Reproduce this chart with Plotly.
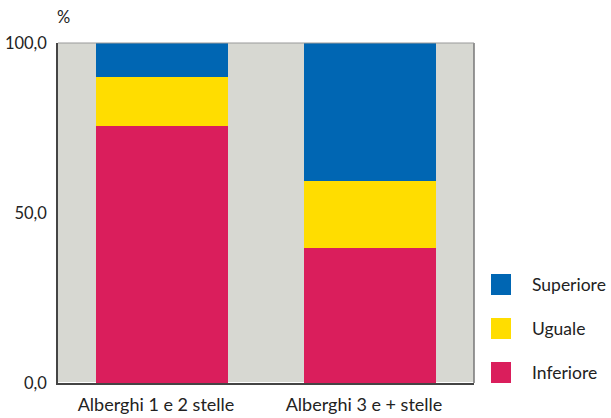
import plotly.graph_objects as go

categories = ["Alberghi 1 e 2 stelle", "Alberghi 3 e + stelle"]
inferiore = [75.6, 39.7]
uguale = [14.3, 19.8]
superiore = [10.1, 40.5]
series_names = ["Inferiore", "Uguale", "Superiore"]
series_values = [inferiore, uguale, superiore]
colors = ["#DA1E5C", "#FFDD00", "#0066B3"]
y_ticks = [0, 50, 100]

fig = go.Figure()
for name, vals, col in zip(series_names, series_values, colors):
    fig.add_trace(go.Bar(x=categories, y=vals, name=name, marker=dict(color=col, line=dict(width=0)),
                         showlegend=False))

font_family = "Lato, 'Open Sans', sans-serif"
fig.update_layout(
    barmode="stack",
    bargap=0.365,
    width=611, height=418,
    margin=dict(l=58, r=137, t=43, b=35),
    paper_bgcolor="white",
    plot_bgcolor="#D7D8D2",
    font=dict(family=font_family, size=16, color="#222222"),
    separators=",.",
    xaxis=dict(showgrid=False, showline=True, linecolor="#444444", linewidth=1.5, mirror=False,
               ticks="outside", ticklen=5, tickcolor="rgba(0,0,0,0)", automargin=False,
               ticklabelshift=-6,
               tickfont=dict(size=18)),
    yaxis=dict(range=[0, 100], tickvals=y_ticks, tickformat=".1f", showgrid=False,
               showline=True, linecolor="#444444", linewidth=1.5, automargin=False,
               ticks="outside", ticklen=6, tickcolor="rgba(0,0,0,0)",
               tickfont=dict(size=16.5)),
)
# right and top border
fig.add_shape(type="line", xref="paper", yref="paper", x0=1, x1=1, y0=0, y1=1,
              line=dict(color="#777777", width=1.5))
fig.add_shape(type="line", xref="paper", yref="paper", x0=0, x1=1, y0=1, y1=1,
              line=dict(color="#999999", width=1))

fig.add_annotation(text="%", xref="paper", yref="paper", x=0.0, y=1.0, yshift=26, xshift=-3,
                   showarrow=False, xanchor="left", yanchor="middle", font=dict(size=16.5))

# legend (custom)
plot_w = 611 - 58 - 137
plot_h = 418 - 43 - 35
legend_items = list(zip(["Superiore", "Uguale", "Inferiore"], ["#0066B3", "#FFDD00", "#DA1E5C"]))
legend_tops = [274, 318, 362]
for (name, col), top in zip(legend_items, legend_tops):
    x0 = (491 - 58) / plot_w
    x1 = (511 - 58) / plot_w
    y0 = (383 - (top + 21)) / plot_h
    y1 = (383 - top) / plot_h
    fig.add_shape(type="rect", xref="paper", yref="paper", x0=x0, x1=x1, y0=y0, y1=y1,
                  fillcolor=col, line=dict(width=0))
    fig.add_annotation(text=name, xref="paper", yref="paper", x=(530 - 58) / plot_w,
                       y=(y0 + y1) / 2, showarrow=False, xanchor="left", yanchor="middle",
                       font=dict(size=17.5))

fig.write_html("out.html")
